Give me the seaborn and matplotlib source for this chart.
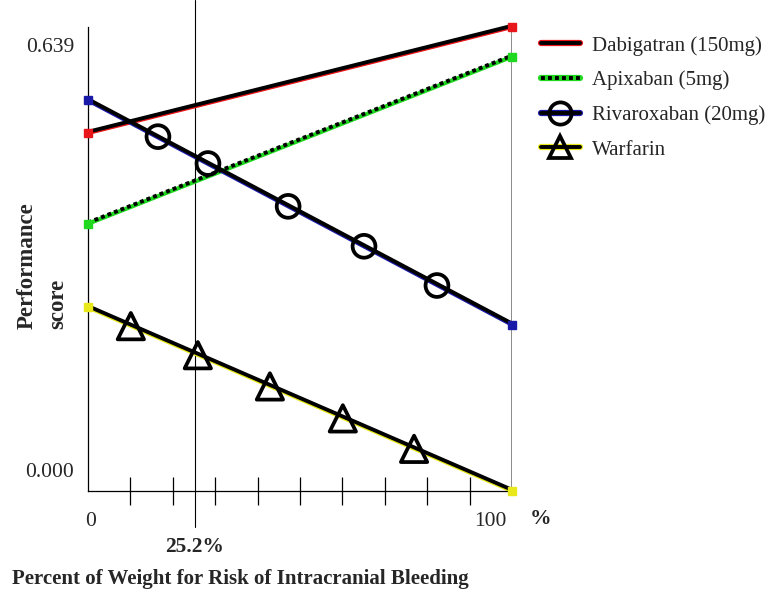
import matplotlib
matplotlib.use("Agg")
import matplotlib.pyplot as plt
import matplotlib.transforms as mtransforms
from matplotlib.lines import Line2D
import pandas as pd
import seaborn as sns

drugs = ["Dabigatran (150mg)", "Apixaban (5mg)", "Rivaroxaban (20mg)", "Warfarin"]
score_at_0 = [0.493, 0.368, 0.538, 0.253]
score_at_100 = [0.639, 0.598, 0.229, 0.000]
colors = ["#e8161b", "#1fd81f", "#1a1aa8", "#e8e81a"]
styles = ["-", (0, (1, 0.8)), "-", "-"]
markers = [None, None, "o", "^"]

# marker positions
circle_x = [16.5, 28.3, 47.2, 65.1, 82.3]
circle_y = [0.488, 0.451, 0.392, 0.337, 0.283]
tri_x = [10.1, 25.9, 42.9, 60.1, 76.9]
tri_y = [0.227, 0.187, 0.144, 0.100, 0.058]

threshold = 25.2

df = pd.DataFrame({
    "drug": drugs * 2,
    "weight": [0] * 4 + [100] * 4,
    "score": score_at_0 + score_at_100,
})

sns.set_style("white")
plt.rcParams["font.family"] = ["Liberation Serif", "DejaVu Serif"]

fig = plt.figure(figsize=(7.69, 5.95), dpi=100)
W, H = 769, 595
ax = fig.add_axes([88 / W, (595 - 491) / H, 424 / W, 464 / H])

# colored under-lines
sns.lineplot(data=df, x="weight", y="score", hue="drug", palette=dict(zip(drugs, colors)),
             linewidth=3, legend=False, ax=ax, clip_on=False)

# black lines slightly above
up = mtransforms.offset_copy(ax.transData, fig=fig, x=0, y=1.2, units="dots")
for i, d in enumerate(drugs):
    sub = df[df["drug"] == d]
    ax.plot(sub["weight"], sub["score"], color="black", lw=2.8, ls=styles[i],
            transform=up, clip_on=False, zorder=3)
    # end squares
    ax.plot(sub["weight"], sub["score"], ls="none", marker="s", ms=5.5,
            color=colors[i], clip_on=False, zorder=4)

sns.scatterplot(x=circle_x, y=circle_y, marker="o", s=270, facecolor="none",
                edgecolor="black", linewidth=2.7, ax=ax, zorder=5)
sns.scatterplot(x=tri_x, y=tri_y, marker="^", s=360, facecolor="none",
                edgecolor="black", linewidth=2.7, ax=ax, zorder=5)

ax.set_xlim(0, 100)
ax.set_ylim(0, 0.639)

# threshold line
ax.axvline(threshold, ymin=-36 / 464, ymax=(491 - 0) / 464, color="black", lw=0.8,
           clip_on=False, zorder=1)
ax.axvline(100, ymin=0, ymax=1.0, color="#777777", lw=1.2, zorder=1)

for s in ["top", "right"]:
    ax.spines[s].set_visible(False)
for s in ["left", "bottom"]:
    ax.spines[s].set_color("black")
    ax.spines[s].set_linewidth(0.9)

ax.set_yticks([0, 0.639])
ax.set_yticklabels(["0.000", "0.639"], fontsize=15.5)
ax.tick_params(axis="y", length=0, pad=10)
ylabels = ax.get_yticklabels()
ylabels[0].set_transform(ylabels[0].get_transform() +
                         mtransforms.ScaledTranslation(0, 0.21, fig.dpi_scale_trans))
ylabels[1].set_transform(ylabels[1].get_transform() +
                         mtransforms.ScaledTranslation(0, -0.18, fig.dpi_scale_trans))

ax.set_xticks([0, 100])
ax.set_xticklabels(["0", "100"], fontsize=15.5)
ax.set_xticks(range(10, 100, 10), minor=True)
ax.tick_params(axis="x", which="major", length=0, pad=15)
ax.tick_params(axis="x", which="minor", direction="inout", length=20, width=0.9,
               color="black", bottom=True)
xlabels = ax.get_xticklabels()
xlabels[0].set_transform(xlabels[0].get_transform() +
                         mtransforms.ScaledTranslation(0.03, 0, fig.dpi_scale_trans))
xlabels[1].set_transform(xlabels[1].get_transform() +
                         mtransforms.ScaledTranslation(-0.22, 0, fig.dpi_scale_trans))
ax.set_xlabel("")
ax.set_ylabel("")

fig.text(540 / W, 1 - 519 / H, "%", fontsize=15.5, fontweight="bold", ha="center", va="center")
ax.text(threshold, -56 / 464, "25.2%", fontsize=15.5, fontweight="bold", ha="center",
        va="center",
        transform=mtransforms.blended_transform_factory(ax.transData, ax.transAxes))

fig.text(12 / W, 1 - 579 / H, "Percent of Weight for Risk of Intracranial Bleeding",
         fontsize=15, fontweight="bold", ha="left", va="center")
fig.text(42 / W, 1 - 329 / H, "Performance\nscore", fontsize=16.5, fontweight="bold",
         rotation=90, ha="center", va="bottom", multialignment="left", linespacing=1.6)

# legend
handles = []
for i, d in enumerate(drugs):
    under = Line2D([], [], color=colors[i], lw=4.5)
    top = Line2D([], [], color="black", lw=2.8, ls=styles[i], marker=markers[i],
                 ms=16, mfc="none", mec="black", mew=2.7)
    handles.append((under, top))
fig.legend(handles, drugs, loc="upper left", bbox_to_anchor=(541 / W, 1 - 36 / H),
           frameon=False, fontsize=15, handlelength=1.85, handletextpad=0.6,
           labelspacing=0.72, borderaxespad=0, borderpad=0)

fig.savefig("out.png", dpi=100)
